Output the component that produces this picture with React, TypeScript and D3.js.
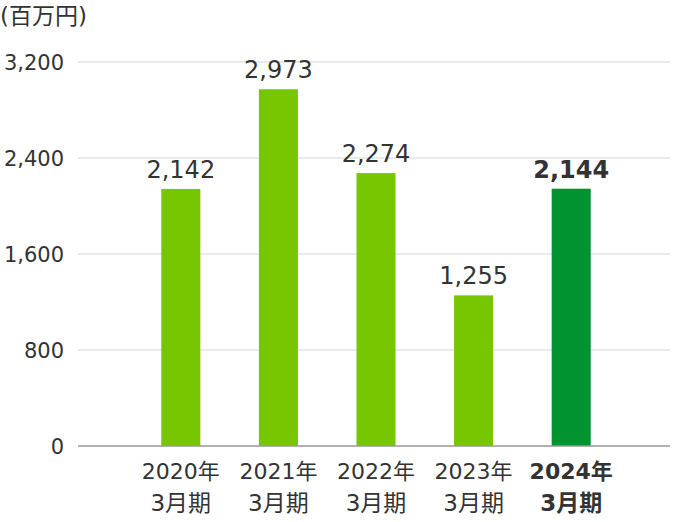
import React from 'react';
import * as d3 from 'd3';

const categories = ['2020年', '2021年', '2022年', '2023年', '2024年'];
const subLabel = '3月期';
const values = [2142, 2973, 2274, 1255, 2144];
const yTicks = [0, 800, 1600, 2400, 3200];
const highlightIndex = 4;

const W = 675;
const H = 522;
const FONT = '"DejaVu Sans", "Noto Sans CJK JP", sans-serif';

const App = () => {
  const x = d3.scaleBand<string>().domain(categories).range([132, 620]).paddingInner(0.6).paddingOuter(0.3);
  const y = d3.scaleLinear().domain([0, 3200]).range([446, 62]);
  const fmt = d3.format(',');

  return (
    <svg width={W} height={H} style={{ position: 'absolute', left: 0, top: 0 }} fontFamily={FONT}>
      <text x={0} y={24} fontSize={23} fill="#333">(百万円)</text>
      {yTicks.map(t => (
        <g key={t}>
          {t > 0 && <line x1={78} x2={670} y1={y(t)} y2={y(t)} stroke="#e3e3e3" strokeWidth={1.5} />}
          <text x={64} y={y(t)} dy="0.36em" textAnchor="end" fontSize={21} fill="#333">{fmt(t)}</text>
        </g>
      ))}
      {values.map((v, i) => {
        const c = categories[i];
        const hl = i === highlightIndex;
        const cx = x(c)! + x.bandwidth() / 2;
        return (
          <g key={c}>
            <rect x={x(c)} y={y(v)} width={x.bandwidth()} height={y(0) - y(v)} fill={hl ? '#00932f' : '#76c600'} />
            <text x={cx} y={y(v) - 11} textAnchor="middle" fontSize={24} fill="#333" fontWeight={hl ? 'bold' : 'normal'}>{fmt(v)}</text>
            <text x={cx} y={479} textAnchor="middle" fontSize={22} fill="#333" fontWeight={hl ? 'bold' : 'normal'}>{c}</text>
            <text x={cx} y={511} textAnchor="middle" fontSize={23} fill="#333" fontWeight={hl ? 'bold' : 'normal'}>{subLabel}</text>
          </g>
        );
      })}
      <line x1={78} x2={670} y1={y(0)} y2={y(0)} stroke="#999" strokeWidth={1.5} />
    </svg>
  );
};

export default App;
